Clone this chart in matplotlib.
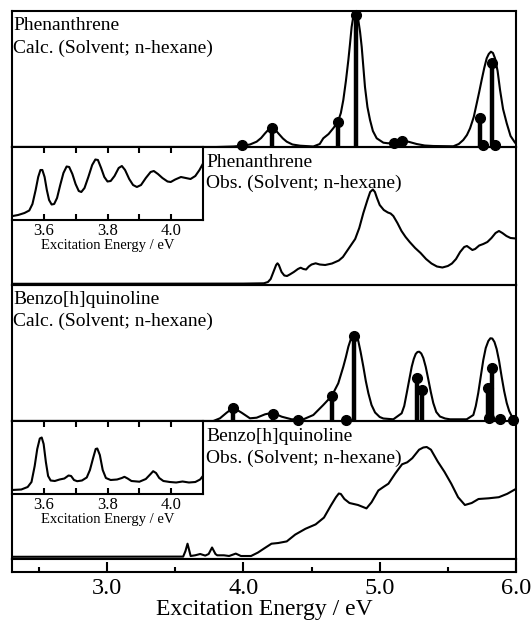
import matplotlib
matplotlib.use("Agg")
import matplotlib.pyplot as plt
from matplotlib.ticker import FixedLocator, NullLocator

plt.rcParams['font.family'] = ['Liberation Serif', 'DejaVu Serif']

# ---------------- data (intensity in arbitrary units) ----------------
# Phenanthrene, calculated: stick transitions
phen_stick_e = [3.987, 4.208, 4.692, 4.824, 5.107, 5.166, 5.736, 5.756, 5.826, 5.846]
phen_stick_f = [0.02, 0.187, 0.247, 1.32, 0.043, 0.057, 0.293, 0.02, 0.843, 0.02]
# Phenanthrene, calculated: broadened envelope
phen_calc_e = [2.30, 3.80, 3.926, 3.987, 4.048, 4.097, 4.130, 4.159, 4.185, 4.208, 4.232, 4.256,
               4.290, 4.318, 4.360, 4.416, 4.513, 4.560, 4.586, 4.625, 4.659, 4.692, 4.715, 4.733,
               4.752, 4.770, 4.782, 4.794, 4.807, 4.819, 4.831, 4.843, 4.856, 4.868, 4.880, 4.892,
               4.910, 4.929, 4.950, 4.978, 5.027, 5.063, 5.090, 5.107, 5.135, 5.166, 5.210, 5.271,
               5.330, 5.393, 5.540, 5.580, 5.613, 5.640, 5.663, 5.690, 5.712, 5.730, 5.748, 5.767,
               5.785, 5.800, 5.816, 5.831, 5.846, 5.865, 5.883, 5.905, 5.932, 5.960, 5.993, 6.00]
phen_calc_i = [0.0, 0.0, 0.005, 0.012, 0.025, 0.053, 0.09, 0.137, 0.175, 0.187, 0.175, 0.137,
               0.085, 0.053, 0.025, 0.013, 0.005, 0.030, 0.087, 0.130, 0.187, 0.247, 0.340, 0.470,
               0.660, 0.870, 1.030, 1.200, 1.310, 1.357, 1.345, 1.270, 1.150, 1.000, 0.800, 0.600,
               0.400, 0.270, 0.160, 0.087, 0.043, 0.037, 0.045, 0.053, 0.062, 0.067, 0.053, 0.030,
               0.015, 0.010, 0.007, 0.030, 0.070, 0.120, 0.187, 0.300, 0.437, 0.550, 0.670, 0.790,
               0.887, 0.930, 0.953, 0.940, 0.887, 0.760, 0.570, 0.380, 0.237, 0.110, 0.043, 0.035]

# Phenanthrene, observed spectrum
phen_obs_e = [2.30, 4.00, 4.15, 4.18, 4.20, 4.22, 4.24, 4.25, 4.26, 4.28, 4.30, 4.32, 4.34, 4.37,
              4.40, 4.42, 4.44, 4.46, 4.48, 4.50, 4.53, 4.56, 4.60, 4.65, 4.70, 4.73, 4.76, 4.79,
              4.82, 4.85, 4.88, 4.91, 4.93, 4.95, 4.965, 4.98, 5.00, 5.03, 5.06, 5.08, 5.10, 5.13,
              5.16, 5.19, 5.22, 5.26, 5.30, 5.34, 5.38, 5.42, 5.46, 5.50, 5.53, 5.56, 5.59, 5.62,
              5.64, 5.66, 5.68, 5.70, 5.73, 5.76, 5.79, 5.82, 5.85, 5.875, 5.90, 5.93, 5.96, 6.00]
phen_obs_i = [0.012, 0.014, 0.017, 0.03, 0.06, 0.13, 0.20, 0.217, 0.20, 0.13, 0.095, 0.09, 0.105,
              0.13, 0.16, 0.173, 0.16, 0.155, 0.185, 0.205, 0.217, 0.205, 0.20, 0.215, 0.245, 0.28,
              0.34, 0.40, 0.46, 0.57, 0.72, 0.85, 0.93, 0.955, 0.93, 0.87, 0.80, 0.75, 0.725, 0.715,
              0.69, 0.62, 0.54, 0.48, 0.43, 0.37, 0.32, 0.26, 0.215, 0.185, 0.175, 0.19, 0.215,
              0.26, 0.33, 0.38, 0.39, 0.37, 0.35, 0.36, 0.395, 0.41, 0.43, 0.47, 0.52, 0.54, 0.52,
              0.49, 0.47, 0.465]

# Phenanthrene, observed (inset, 3.5-4.1 eV)
phen_ins_e = [3.500, 3.520, 3.540, 3.555, 3.565, 3.575, 3.583, 3.590, 3.596, 3.603, 3.610, 3.617,
              3.625, 3.633, 3.642, 3.652, 3.662, 3.672, 3.680, 3.690, 3.700, 3.710, 3.718, 3.728,
              3.740, 3.752, 3.762, 3.770, 3.780, 3.790, 3.800, 3.810, 3.822, 3.835, 3.845, 3.855,
              3.868, 3.880, 3.892, 3.905, 3.920, 3.935, 3.945, 3.958, 3.972, 3.988, 3.998, 4.012,
              4.030, 4.045, 4.060, 4.075, 4.088, 4.100]
phen_ins_i = [0.038, 0.05, 0.07, 0.095, 0.16, 0.30, 0.43, 0.50, 0.50, 0.43, 0.30, 0.20,
              0.155, 0.16, 0.22, 0.35, 0.47, 0.535, 0.53, 0.46, 0.36, 0.29, 0.28, 0.32,
              0.43, 0.55, 0.605, 0.60, 0.52, 0.43, 0.385, 0.39, 0.44, 0.52, 0.54, 0.50,
              0.41, 0.35, 0.33, 0.35, 0.42, 0.48, 0.49, 0.46, 0.42, 0.385, 0.38, 0.405,
              0.43, 0.42, 0.41, 0.44, 0.50, 0.57]

# Benzo[h]quinoline, calculated: stick transitions
bq_stick_e = [3.926, 4.215, 4.398, 4.648, 4.753, 4.814, 5.276, 5.308, 5.797, 5.804, 5.826, 5.883, 5.980]
bq_stick_f = [0.127, 0.07, 0.01, 0.25, 0.01, 0.853, 0.427, 0.31, 0.333, 0.027, 0.527, 0.017, 0.01]
# Benzo[h]quinoline, calculated: broadened envelope
bq_calc_e = [2.30, 3.779, 3.828, 3.877, 3.926, 3.987, 4.048, 4.097, 4.159, 4.215, 4.281, 4.354,
             4.440, 4.513, 4.586, 4.648, 4.696, 4.733, 4.752, 4.770, 4.786, 4.802, 4.819, 4.831,
             4.843, 4.860, 4.880, 4.898, 4.917, 4.940, 4.966, 5.000, 5.027, 5.100, 5.161, 5.180,
             5.198, 5.215, 5.235, 5.250, 5.264, 5.277, 5.290, 5.305, 5.320, 5.338, 5.356, 5.375,
             5.393, 5.415, 5.442, 5.480, 5.516, 5.638, 5.687, 5.705, 5.723, 5.742, 5.760, 5.778,
             5.797, 5.812, 5.826, 5.842, 5.858, 5.876, 5.895, 5.913, 5.932, 5.950, 5.968, 5.993, 6.00]
bq_calc_i = [0.0, 0.0, 0.027, 0.083, 0.133, 0.083, 0.027, 0.033, 0.067, 0.083, 0.043, 0.017,
             0.017, 0.06, 0.16, 0.25, 0.377, 0.543, 0.64, 0.743, 0.81, 0.85, 0.867, 0.85,
             0.80, 0.69, 0.543, 0.40, 0.277, 0.16, 0.085, 0.04, 0.025, 0.017, 0.077, 0.15,
             0.277, 0.40, 0.543, 0.62, 0.67, 0.69, 0.693, 0.675, 0.63, 0.54, 0.42, 0.29,
             0.18, 0.09, 0.045, 0.025, 0.017, 0.017, 0.06, 0.15, 0.28, 0.45, 0.61, 0.73,
             0.80, 0.827, 0.825, 0.79, 0.72, 0.60, 0.44, 0.30, 0.18, 0.10, 0.05, 0.015, 0.01]

# Benzo[h]quinoline, observed spectrum
bq_obs_e = [2.30, 3.558, 3.575, 3.590, 3.613, 3.646, 3.683, 3.720, 3.745, 3.770, 3.795, 3.808,
            3.857, 3.895, 3.944, 3.982, 4.056, 4.106, 4.156, 4.206, 4.256, 4.318, 4.380, 4.455,
            4.530, 4.591, 4.641, 4.679, 4.700, 4.715, 4.741, 4.778, 4.841, 4.903, 4.940, 4.990,
            5.027, 5.064, 5.114, 5.164, 5.202, 5.239, 5.289, 5.320, 5.345, 5.376, 5.426, 5.475,
            5.525, 5.575, 5.625, 5.675, 5.725, 5.799, 5.874, 5.936, 5.993, 6.00]
bq_obs_i = [0.022, 0.024, 0.08, 0.153, 0.03, 0.037, 0.05, 0.034, 0.05, 0.115, 0.05, 0.037,
            0.037, 0.03, 0.054, 0.03, 0.03, 0.064, 0.109, 0.153, 0.16, 0.176, 0.244, 0.302,
            0.346, 0.414, 0.533, 0.618, 0.655, 0.65, 0.60, 0.56, 0.54, 0.506, 0.567, 0.685,
            0.72, 0.753, 0.855, 0.947, 0.967, 1.008, 1.093, 1.115, 1.12, 1.093, 0.974, 0.872,
            0.753, 0.618, 0.54, 0.56, 0.60, 0.607, 0.618, 0.652, 0.696, 0.70]

# Benzo[h]quinoline, observed (inset, 3.5-4.1 eV)
bq_ins_e = [3.500, 3.530, 3.550, 3.562, 3.572, 3.580, 3.588, 3.594, 3.600, 3.607, 3.614, 3.622,
            3.635, 3.650, 3.665, 3.678, 3.686, 3.695, 3.705, 3.720, 3.735, 3.745, 3.755, 3.763,
            3.768, 3.776, 3.785, 3.795, 3.810, 3.830, 3.845, 3.853, 3.863, 3.875, 3.900, 3.920,
            3.935, 3.943, 3.952, 3.962, 3.975, 3.995, 4.015, 4.035, 4.055, 4.075, 4.090, 4.100]
bq_ins_i = [0.04, 0.045, 0.07, 0.12, 0.28, 0.45, 0.555, 0.565, 0.50, 0.32, 0.18, 0.135,
            0.13, 0.145, 0.155, 0.185, 0.18, 0.14, 0.128, 0.135, 0.165, 0.24, 0.36, 0.45,
            0.455, 0.39, 0.24, 0.16, 0.14, 0.145, 0.16, 0.172, 0.155, 0.13, 0.123, 0.15,
            0.20, 0.228, 0.21, 0.16, 0.13, 0.12, 0.115, 0.125, 0.115, 0.12, 0.145, 0.185]

main_xticks = [3.0, 4.0, 5.0, 6.0]
main_xticklabels = ["3.0", "4.0", "5.0", "6.0"]
main_minor = [2.5, 3.5, 4.5, 5.5]
ins_xticks = [3.6, 3.8, 4.0]
ins_xticklabels = ["3.6", "3.8", "4.0"]
ins_minor = [3.7, 3.9]
xlabel = "Excitation Energy / eV"
name_phen = "Phenanthrene"
name_bq = "Benzo[h]quinoline"
calc_txt = "Calc. (Solvent; n-hexane)"
obs_txt = "Obs. (Solvent; n-hexane)"

# ---------------- layout ----------------
W, H = 532, 623
fig = plt.figure(figsize=(W / 100, H / 100), dpi=100)
L, R = 11.7, 516.0


def rect(x0, y0, x1, y1):
    return [x0 / W, 1 - y1 / H, (x1 - x0) / W, (y1 - y0) / H]


LW = 1.5
XL = (2.3, 6.0)


def panel(y0, y1, ymax, z):
    ax = fig.add_axes(rect(L, y0, R, y1), zorder=z)
    ax.set_xlim(*XL)
    ax.set_ylim(0, ymax)
    ax.xaxis.set_major_locator(NullLocator())
    ax.yaxis.set_major_locator(NullLocator())
    for s in ax.spines.values():
        s.set_linewidth(LW)
    ax.patch.set_alpha(0)
    return ax


ax1 = panel(11, 147, 1.36, 4)
ax2 = panel(147, 285, 1.38, 1)
ax3 = panel(285, 421, 1.36, 3)
ax4 = panel(421, 559, 1.38, 0)

# tick strip
axs = fig.add_axes(rect(L, 559, R, 572), zorder=0)
axs.set_xlim(*XL)
axs.set_ylim(0, 1)
axs.yaxis.set_major_locator(NullLocator())
axs.xaxis.set_major_locator(FixedLocator(main_xticks))
axs.set_xticklabels(main_xticklabels)
axs.xaxis.set_minor_locator(FixedLocator(main_minor))
axs.tick_params(axis='x', which='major', direction='in', length=7.2, width=1.5, labelsize=17.5, pad=4)
axs.tick_params(axis='x', which='minor', direction='in', length=3.6, width=1.5)
for s in axs.spines.values():
    s.set_linewidth(LW)
axs.set_xlabel(xlabel, fontsize=17, labelpad=0)


def calc(ax, se, sf, ce, ci):
    ax.plot(ce, ci, color='black', lw=1.5, solid_joinstyle='round')
    ax.vlines(se, 0, sf, color='black', lw=3.2)
    ax.plot(se, sf, 'o', color='black', ms=7, clip_on=False, zorder=5)


calc(ax1, phen_stick_e, phen_stick_f, phen_calc_e, phen_calc_i)
calc(ax3, bq_stick_e, bq_stick_f, bq_calc_e, bq_calc_i)
ax2.plot(phen_obs_e, phen_obs_i, color='black', lw=1.5, solid_joinstyle='round')
ax4.plot(bq_obs_e, bq_obs_i, color='black', lw=1.5, solid_joinstyle='round')


def inset(y0, y1, e, i, ymax):
    ax = fig.add_axes(rect(L, y0, 203.3, y1), zorder=6)
    ax.set_xlim(3.5, 4.1)
    ax.set_ylim(0, ymax)
    ax.plot(e, i, color='black', lw=1.5, solid_joinstyle='round')
    ax.yaxis.set_major_locator(NullLocator())
    ax.xaxis.set_major_locator(FixedLocator(ins_xticks))
    ax.set_xticklabels(ins_xticklabels)
    ax.xaxis.set_minor_locator(FixedLocator(ins_minor))
    ax.tick_params(axis='x', which='both', direction='in', length=4.5, width=1.5,
                   top=True, labelsize=12, pad=2)
    for s in ax.spines.values():
        s.set_linewidth(LW)
    ax.set_xlabel(xlabel, fontsize=10.5, labelpad=0.5)
    return ax


inset(147, 220, phen_ins_e, phen_ins_i, 0.73)
inset(421, 494, bq_ins_e, bq_ins_i, 0.73)


def label(x, y, s):
    fig.text(x / W, 1 - y / H, s, fontsize=14, va='baseline', ha='left', zorder=10)


label(13, 30.5, name_phen)
label(13, 52.6, calc_txt)
label(206, 166.7, name_phen)
label(206, 188, obs_txt)
label(13, 304, name_bq)
label(13, 325.6, calc_txt)
label(206, 440.7, name_bq)
label(206, 462.8, obs_txt)

fig.savefig("out.png", dpi=100)
